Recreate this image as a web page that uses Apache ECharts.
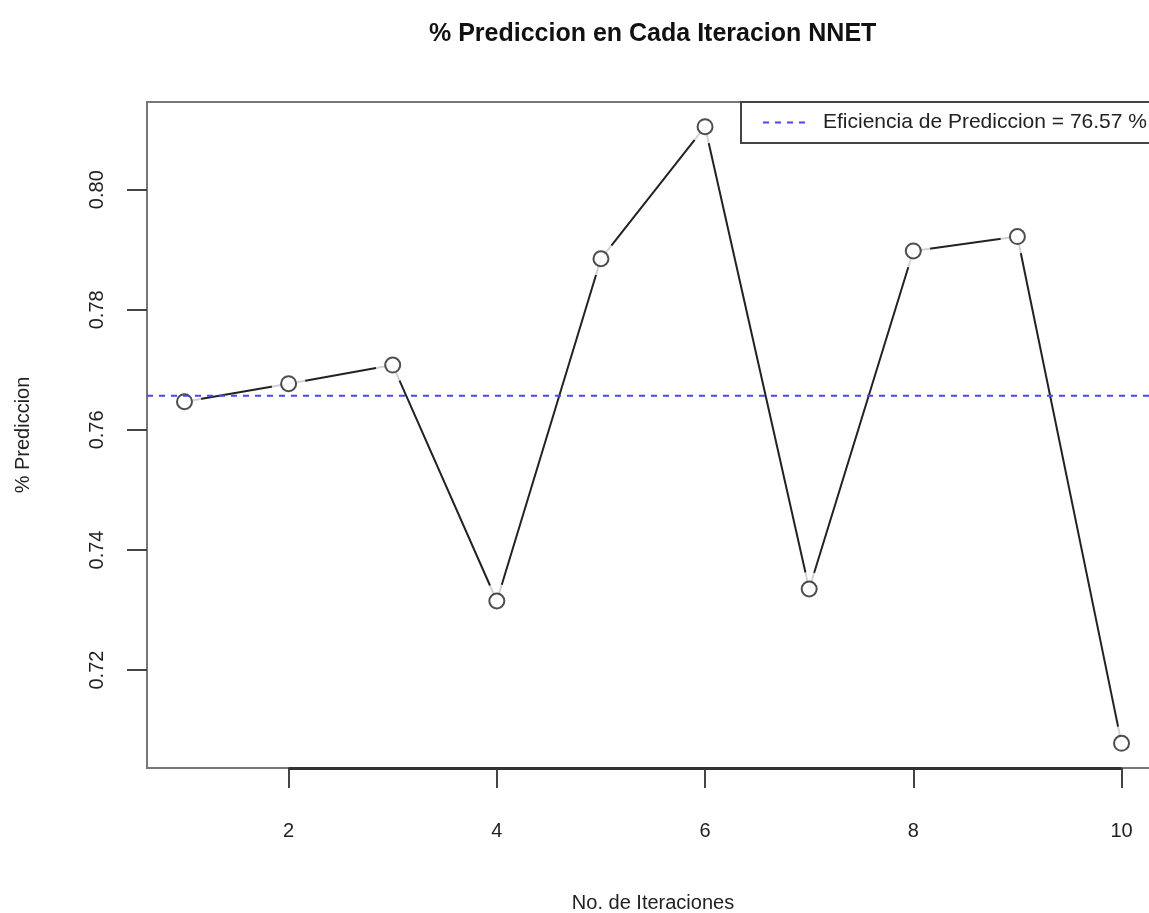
<!DOCTYPE html>
<html><head><meta charset="utf-8">
<script src="https://cdn.jsdelivr.net/npm/echarts@6/dist/echarts.min.js"></script>
<style>html,body{margin:0;padding:0;background:#fff}#c{width:1149px;height:913px}</style>
</head><body><div id="c"></div>
<script>
const iterations = [1, 2, 3, 4, 5, 6, 7, 8, 9, 10];
const prediction = [0.7647, 0.7677, 0.7708, 0.7315, 0.7885, 0.8105, 0.7335, 0.7898, 0.7922, 0.7078];
const meanEfficiency = 0.7657;
const xTicks = [2, 4, 6, 8, 10];
const yTicks = [0.72, 0.74, 0.76, 0.78, 0.80];
const titleText = '% Prediccion en Cada Iteracion NNET';
const xName = 'No. de Iteraciones';
const yName = '% Prediccion';
const legendName = 'Eficiencia de Prediccion = 76.57 %';

const pts = iterations.map((x, i) => [x, prediction[i]]);
function ext(arr) { const lo = Math.min(...arr), hi = Math.max(...arr), d = (hi - lo) * 0.04; return [lo - d, hi + d]; }
const xr = ext(iterations), yr = ext(prediction);
const meanLine = [[xr[0], meanEfficiency], [xr[1], meanEfficiency]];
const FONT = "'Liberation Sans', Arial, Helvetica, sans-serif";
const BLUE = '#4646ff';

const chart = echarts.init(document.getElementById('c'), null, {renderer: 'canvas'});
chart.setOption({
  animation: false,
  backgroundColor: '#fff',
  title: {text: titleText, left: 424, top: 17,
    textStyle: {fontFamily: FONT, fontSize: 25, fontWeight: 'bold', color: '#111'}},
  legend: {
    data: [{name: legendName, itemStyle: {opacity: 0},
      lineStyle: {color: BLUE, width: 2, type: [6, 6], opacity: 1}}],
    left: 741, top: 102,
    borderColor: '#444', borderWidth: 2, backgroundColor: '#fff',
    padding: [10, 40, 10, 21], itemWidth: 46, itemHeight: 21,
    textStyle: {fontFamily: FONT, fontSize: 21, color: '#222', padding: [0, 0, 0, 9]}
  },
  grid: {left: 147, top: 102, width: 1012, height: 666, show: true,
    outerBoundsMode: 'none', containLabel: false,
    borderColor: '#777', borderWidth: 2, backgroundColor: 'transparent'},
  xAxis: {type: 'value', min: xr[0], max: xr[1],
    name: xName, nameLocation: 'middle', nameGap: 125,
    nameTextStyle: {fontFamily: FONT, fontSize: 20, color: '#222'},
    axisLine: {show: false}, splitLine: {show: false},
    axisTick: {show: true, length: 20, lineStyle: {color: '#444', width: 2}, customValues: xTicks},
    axisLabel: {fontFamily: FONT, fontSize: 20, color: '#222', margin: 53, customValues: xTicks}
  },
  yAxis: {type: 'value', min: yr[0], max: yr[1],
    name: yName, nameLocation: 'middle', nameGap: 114, nameRotate: 90,
    nameTextStyle: {fontFamily: FONT, fontSize: 20, color: '#222'},
    axisLine: {show: false}, splitLine: {show: false},
    axisTick: {show: true, length: 20, lineStyle: {color: '#444', width: 2}, customValues: yTicks},
    axisLabel: {fontFamily: FONT, fontSize: 20, color: '#222', margin: 40, rotate: 90,
      customValues: yTicks, formatter: v => v.toFixed(2)}
  },
  series: [
    {type: 'line', data: pts, showSymbol: false, symbol: 'none', z: 1, silent: true,
      lineStyle: {color: '#222', width: 2},
      markLine: {silent: true, symbol: 'none', label: {show: false},
        lineStyle: {color: '#333', width: 3, type: 'solid'},
        data: [[{coord: [xTicks[0], yr[0]]}, {coord: [xTicks[xTicks.length - 1], yr[0]]}]]}},
    {type: 'scatter', data: pts, symbol: 'circle', symbolSize: 34, z: 2, silent: true,
      itemStyle: {color: '#fff', borderWidth: 0}},
    {type: 'scatter', data: pts, symbol: 'circle', symbolSize: 15, z: 3, silent: true,
      itemStyle: {color: '#fff', borderColor: '#222', borderWidth: 2}},
    {type: 'line', name: legendName, data: meanLine, showSymbol: false, symbol: 'none', z: 4, silent: true,
      lineStyle: {color: BLUE, width: 2, type: [6, 6]},
      itemStyle: {color: BLUE}}
  ]
});
</script></body></html>
